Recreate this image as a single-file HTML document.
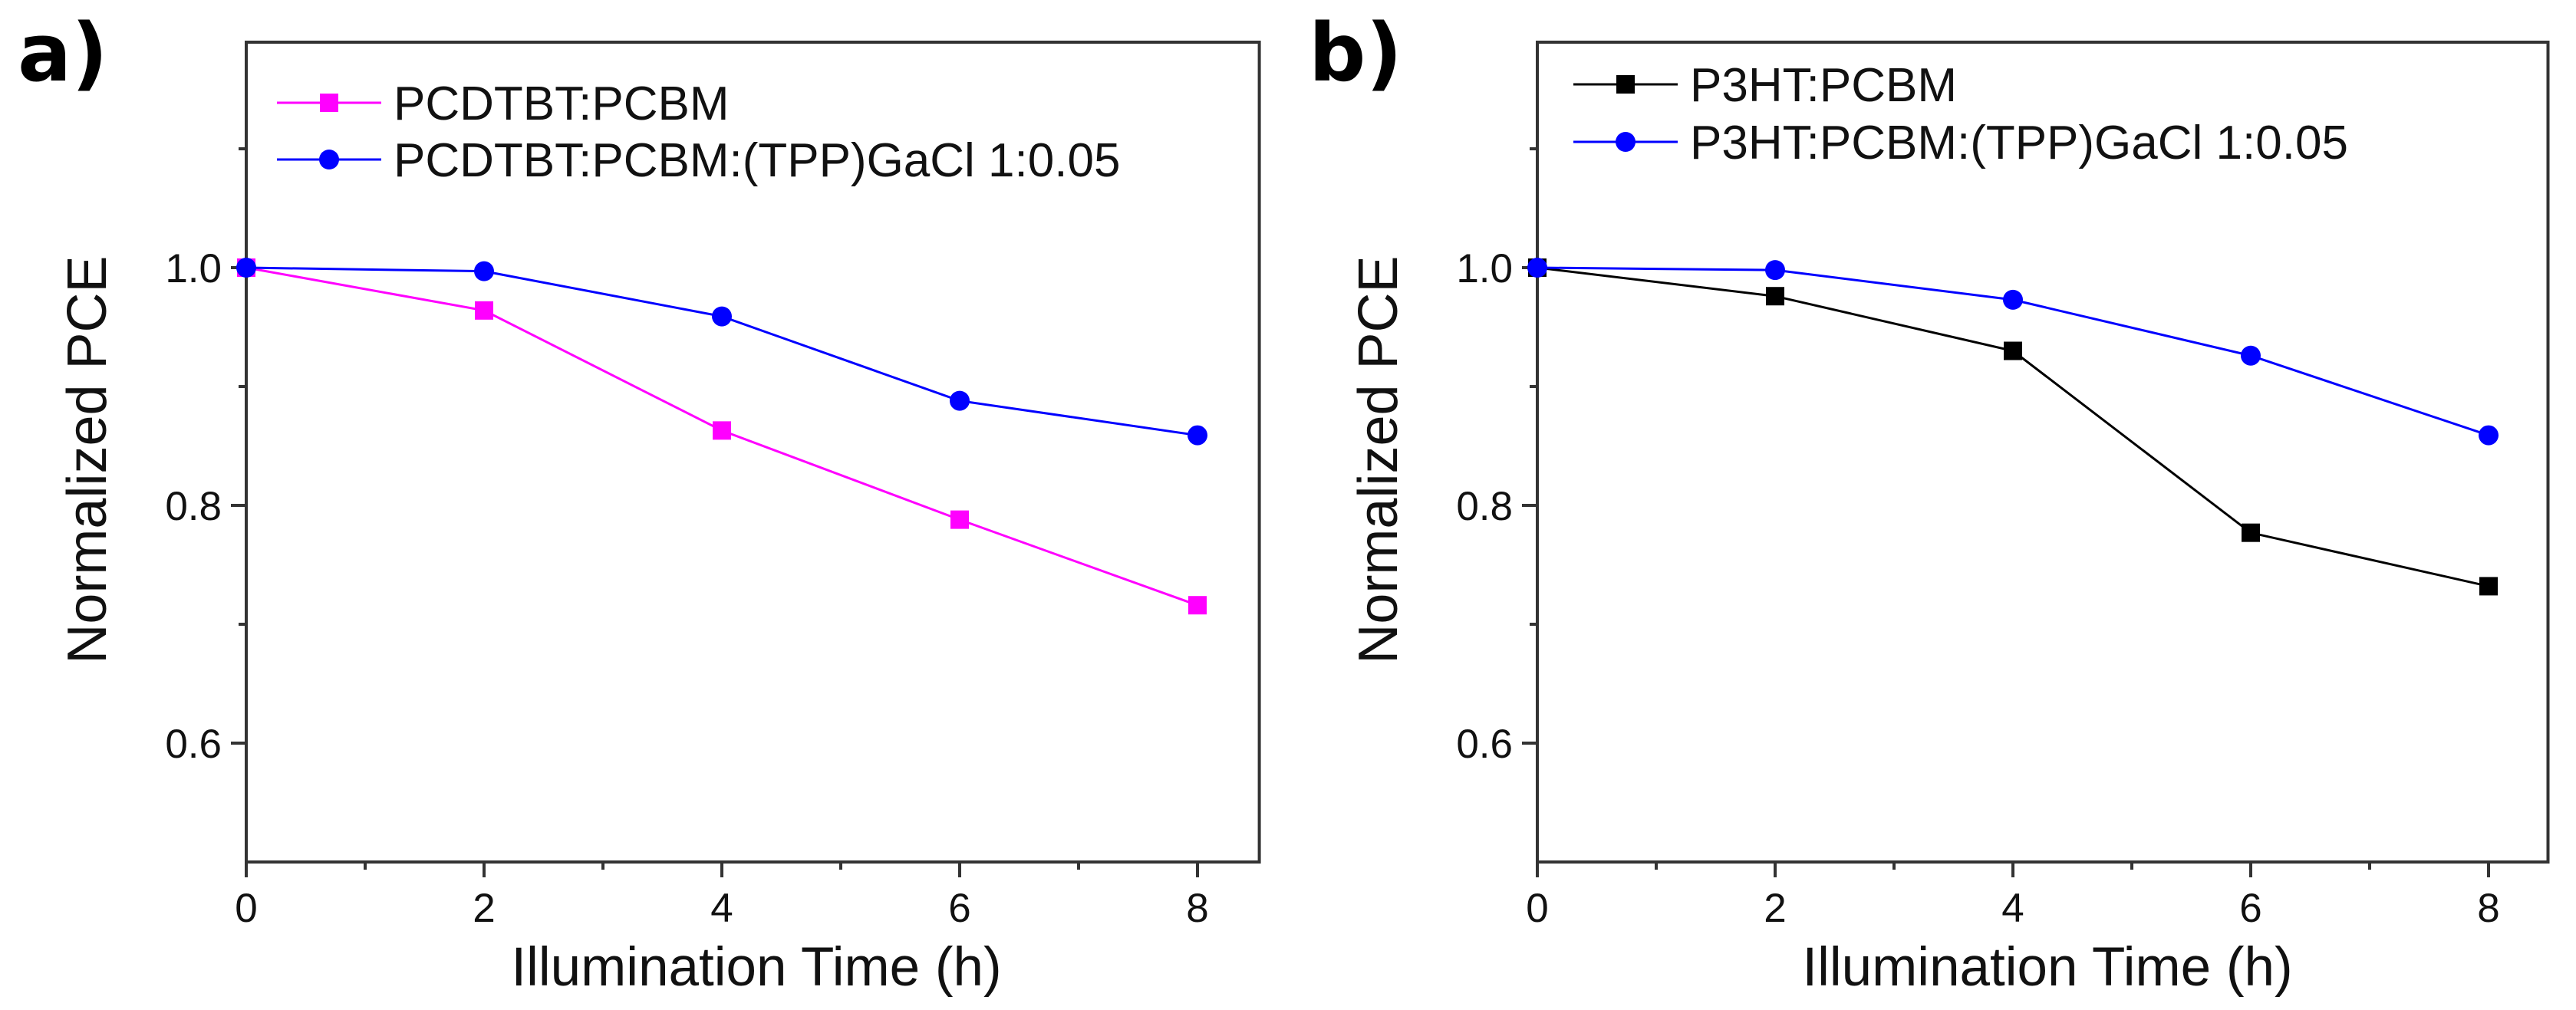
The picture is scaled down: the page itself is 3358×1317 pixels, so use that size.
<!DOCTYPE html>
<html><head><meta charset="utf-8">
<style>
html,body{margin:0;padding:0;background:#fff;}
svg{display:block;font-family:"Liberation Sans",Arial,sans-serif;}
</style></head>
<body>
<svg id="fig" width="3358" height="1317" viewBox="0 0 3358 1317" xmlns="http://www.w3.org/2000/svg">
<rect x="0" y="0" width="3358" height="1317" fill="#fff"/>
</svg>
<script>
const xCategories = [0, 2, 4, 6, 8];
const xTickLabels = ["0", "2", "4", "6", "8"];
const yTickValues = [0.6, 0.8, 1.0];
const yTickLabels = ["0.6", "0.8", "1.0"];
const aPinkValues = [1.0, 0.964, 0.863, 0.788, 0.716];
const aBlueValues = [1.0, 0.997, 0.959, 0.888, 0.859];
const bBlackValues = [1.0, 0.976, 0.930, 0.777, 0.732];
const bBlueValues = [1.0, 0.998, 0.973, 0.926, 0.859];
const aLegend = ["PCDTBT:PCBM", "PCDTBT:PCBM:(TPP)GaCl 1:0.05"];
const bLegend = ["P3HT:PCBM", "P3HT:PCBM:(TPP)GaCl 1:0.05"];

const NS = "http://www.w3.org/2000/svg";
const svg = document.getElementById("fig");
function mk(tag, attrs, parent) {
  const e = document.createElementNS(NS, tag);
  for (const k in attrs) e.setAttribute(k, attrs[k]);
  (parent || svg).appendChild(e);
  return e;
}

const TOP = 55, BOT = 1124, YMIN = 0.5, YMAX = 1.1897, PXU = 155;

function panel(id, left, xmax, letter, series, legend, legendRows, legendX) {
  const g = mk("g", {});
  
  
  const right = left + xmax * PXU;
  const xs = v => left + v * PXU;
  const ys = v => BOT - (v - YMIN) / (YMAX - YMIN) * (BOT - TOP);

  const lab = mk("text", {x: left - 298, y: 105, "font-size": 104, "font-weight": "bold", "font-family": "'DejaVu Sans','Liberation Sans',sans-serif", fill: "#000"}, g);
  lab.textContent = letter;
  
  

  const frame = mk("rect", {x: left, y: TOP, width: right - left, height: BOT - TOP, fill: "none", stroke: "#333", "stroke-width": 4}, g);
  
  

  for (let v = 0; v <= 8; v++) {
    const major = v % 2 === 0;
    const t = mk("line", {x1: xs(v), x2: xs(v), y1: BOT, y2: BOT + (major ? 20 : 10), stroke: "#333", "stroke-width": 4}, g);
    
    
  }
  xCategories.forEach((c, i) => {
    const t = mk("text", {x: xs(c), y: 1202, "font-size": 53, "text-anchor": "middle", fill: "#111"}, g);
    t.textContent = xTickLabels[i];
    
    
  });
  for (let v = 0.6; v <= 1.15; v += 0.1) {
    const major = Math.abs(Math.round(v * 10) % 2) === 0;
    const t = mk("line", {x1: left - (major ? 20 : 10), x2: left, y1: ys(v), y2: ys(v), stroke: "#333", "stroke-width": 4}, g);
    
    
  }
  yTickValues.forEach((v, i) => {
    const t = mk("text", {x: left - 32, y: ys(v) + 19, "font-size": 53, "text-anchor": "end", fill: "#111"}, g);
    t.textContent = yTickLabels[i];
    
    
  });
  const yt = mk("text", {x: 0, y: 0, "font-size": 72, "text-anchor": "middle", fill: "#111", transform: `translate(${left - 183},${(TOP + BOT) / 2 + 10}) rotate(-90)`}, g);
  yt.textContent = "Normalized PCE";
  
  
  const xt = mk("text", {x: left + 665, y: 1285, "font-size": 71, "text-anchor": "middle", fill: "#111"}, g);
  xt.textContent = "Illumination Time (h)";
  
  

  series.forEach((s, si) => {
    const pts = xCategories.map((c, i) => xs(c) + "," + ys(s.values[i])).join(" ");
    const pl = mk("polyline", {points: pts, fill: "none", stroke: s.color, "stroke-width": 3}, g);
    
    
    xCategories.forEach((c, i) => {
      let m;
      if (s.marker === "square") m = mk("rect", {x: xs(c) - 12, y: ys(s.values[i]) - 12, width: 24, height: 24, fill: s.color}, g);
      else m = mk("circle", {cx: xs(c), cy: ys(s.values[i]), r: 13, fill: s.color}, g);
      
      
    });
    const ly = legendRows[si];
    const ll = mk("line", {x1: legendX, x2: legendX + 136, y1: ly, y2: ly, stroke: s.color, "stroke-width": 3}, g);
    
    
    let lm;
    if (s.marker === "square") lm = mk("rect", {x: legendX + 56, y: ly - 12, width: 24, height: 24, fill: s.color}, g);
    else lm = mk("circle", {cx: legendX + 68, cy: ly, r: 13, fill: s.color}, g);
    
    
    const lt = mk("text", {x: legendX + 152, y: ly + 22, "font-size": 62, fill: "#111"}, g);
    lt.textContent = legend[si];
    
    
  });
}

panel("a", 321, 8.52, "a)", [
  {key: "pcdtbt-pcbm", values: aPinkValues, color: "#ff00ff", marker: "square"},
  {key: "pcdtbt-tppgacl", values: aBlueValues, color: "#0000ff", marker: "circle"}
], aLegend, [134, 208], 361);

panel("b", 2004, 8.5, "b)", [
  {key: "p3ht-pcbm", values: bBlackValues, color: "#000000", marker: "square"},
  {key: "p3ht-tppgacl", values: bBlueValues, color: "#0000ff", marker: "circle"}
], bLegend, [110, 185], 2051);
</script>
</body></html>
